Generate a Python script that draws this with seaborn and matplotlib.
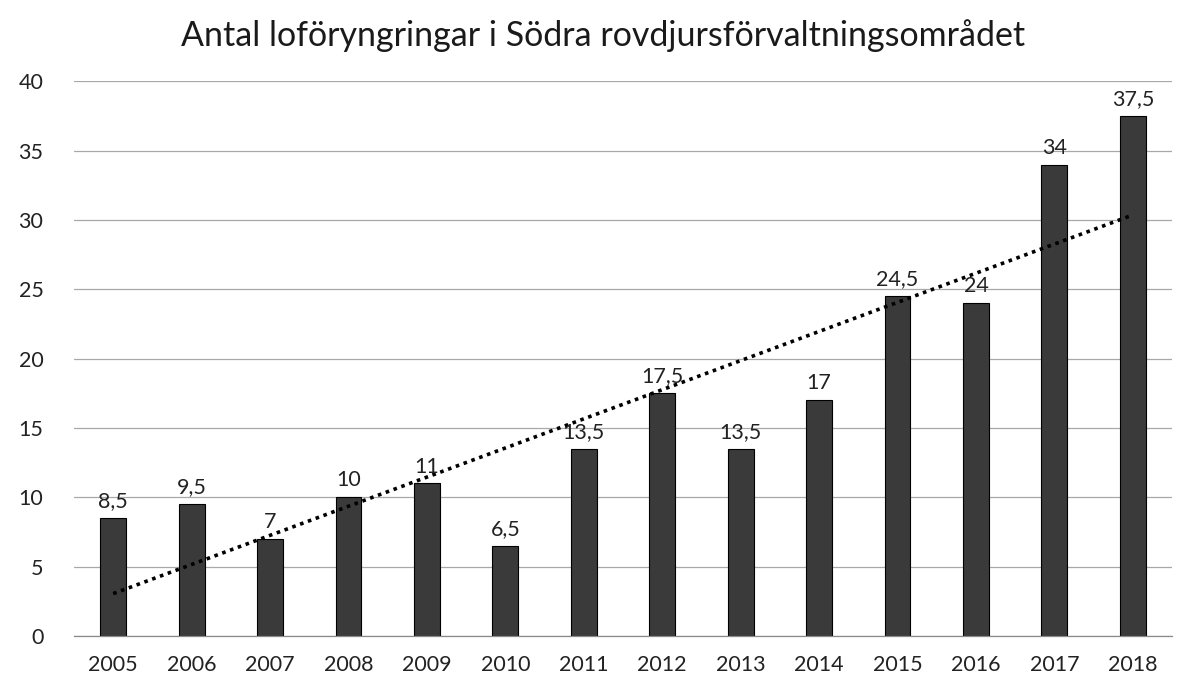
import numpy as np
import pandas as pd
import matplotlib
matplotlib.use('Agg')
import matplotlib.pyplot as plt
import seaborn as sns

# ── Data ──────────────────────────────────────────────────────────────────────
years = ["2005", "2006", "2007", "2008", "2009", "2010", "2011",
         "2012", "2013", "2014", "2015", "2016", "2017", "2018"]
counts = [8.5, 9.5, 7, 10, 11, 6.5, 13.5, 17.5, 13.5, 17, 24.5, 24, 34, 37.5]
y_ticks = [0, 5, 10, 15, 20, 25, 30, 35, 40]

TITLE = "Antal loföryngringar i Södra rovdjursförvaltningsområdet"

sns.set_theme(style="white")
plt.rcParams['font.family'] = ['Lato', 'DejaVu Sans']

df = pd.DataFrame({"year": years, "count": counts})

fig = plt.figure(figsize=(11.82, 6.88), dpi=100)
ax = fig.add_axes([0.0626, 0.0756, 0.929, 0.806])

ax.grid(axis="y", color="#a8a8a8", linewidth=0.9, zorder=0)
ax.set_axisbelow(True)

sns.barplot(data=df, x="year", y="count", color="#3a3a3a", saturation=1,
            edgecolor="black", linewidth=0.8, width=0.33, ax=ax, zorder=2)

# linear trend line (Excel style, dotted)
sns.regplot(x=np.arange(len(counts)), y=np.array(counts), scatter=False,
            ci=None, truncate=True, ax=ax,
            line_kws=dict(color="black", linestyle=(0, (1, 1.3)),
                          linewidth=2.6, zorder=3))

ax.bar_label(ax.containers[0], fmt=lambda v: f"{v:g}".replace(".", ","),
             padding=5, fontsize=15.5, color="#222222")

ax.set_xlim(-0.5, len(years) - 0.5)
ax.set_ylim(0, 40)
ax.set_yticks(y_ticks)
ax.set_xlabel("")
ax.set_ylabel("")
ax.tick_params(axis="y", labelsize=15.5, pad=22, length=0, colors="#222222")
ax.tick_params(axis="x", labelsize=15.5, pad=14, length=0, colors="#222222")

for side in ["left", "right", "top"]:
    ax.spines[side].set_visible(False)
ax.spines["bottom"].set_color("#8a8a8a")
ax.spines["bottom"].set_linewidth(0.9)

fig.text(0.51, 0.948, TITLE, ha="center", va="center", fontsize=24.5,
         color="#1a1a1a")

fig.savefig("out.png", dpi=100)
plt.close(fig)
